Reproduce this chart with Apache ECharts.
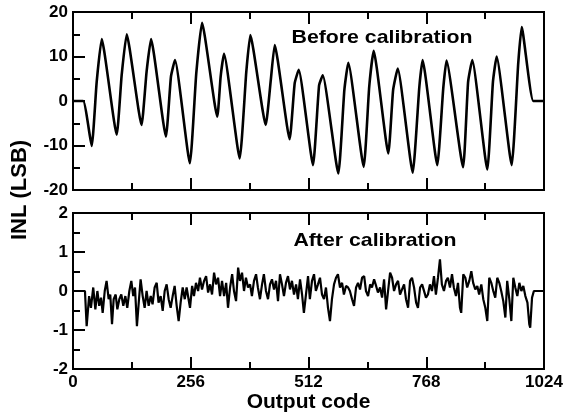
<!DOCTYPE html>
<html>
<head>
<meta charset="utf-8">
<script src="https://cdn.jsdelivr.net/npm/echarts@6/dist/echarts.min.js"></script>
<style>html,body{margin:0;padding:0;background:#fff}#c{width:575px;height:416px}</style>
</head>
<body>
<div id="c"></div>
<script>
// Top panel: INL before calibration (codes, LSB)
const topCodes = [0,22,40.6,51.5,62.4,95,105.8,116.7,149,160,169.6,202,213,221.7,254,268,280.5,313.7,321,328.3,362.4,376.8,385.5,419,430,438.5,471,482,490.7,521.8,535,543,576.8,590,598.5,632,644,653.7,685.5,696,706,738.5,753,760,792,805,812,848,859,868,900.7,913,921,953.7,968,975.5,1000.7,1024];
const topINL = [0,0,-10.1,4.3,13.9,-7.6,5.8,15,-5.4,6.6,13.9,-8,5.5,9.2,-14,6.2,17.6,-3.5,5.5,10.6,-12.9,6.6,14.8,-5.4,4.7,12.6,-8.6,4,7,-14.4,3.5,5.8,-16.3,2.5,8.6,-14.8,3.2,11.3,-11.8,2.5,7.3,-16.1,3.2,9.2,-14.4,2.9,9.1,-14.9,4.3,9.2,-15.4,4.3,10,-14.4,8.5,16.6,0,0];

// Bottom panel: INL after calibration (codes, LSB)
const botCodes = [0,26,29.7,35,39,44,48.6,53,57,61,64.5,69,73,77.5,81,84.8,88.4,92.8,96.4,100.7,105,109.4,113.8,118,122.5,126.8,131,134.8,139,143.5,147,151.5,155.8,160,164.5,169,173,177.5,182,186,190.6,195,199.3,203.6,208,212.3,216.7,221,225.4,229.7,234,238.5,243,247,
254.4,259,263,267.4,272,276,280.5,285,289.4,293.7,298,302.3,306.7,311,315.4,319.7,324,328.5,333,337,341.5,346,350,354.5,359,363,367.5,371.8,376,380.5,385,389,393.5,398,402,406.5,411,415,419.6,424,428.3,432.6,437,441.4,445.7,450,454.4,458.7,463,467.4,471.8,476,480.5,485,489,493.6,498,502,
511,515,519.6,524,528,532.6,537,541.4,545.7,550,554.4,558.7,563,567.5,571.8,576,580.5,585,589,593.6,598,602,606.7,611,615.4,619.7,624,628.5,633,637,641.5,646,650,654.6,659,663,667.6,672,676.3,680.7,685,689.4,693.7,698,702.4,706.7,711,715.4,719.8,724,728.5,732.8,737,741.5,746,750,754.6,759,
767.4,771.7,776,780.4,784.8,789,793.5,797.8,802,806.5,811,815,819.6,824,828,832.6,837,841.3,844,848.5,853,857,861.6,866,870,874.6,879,883,887.7,892,896.4,900.7,905,909.4,913.7,918,922.4,926.8,931,935.5,940,944,948.6,953,957.3,961.6,966,970.4,974.8,979,983.5,988,992,994,998,1002,1024];
const botINL = [0,0,-0.9,-0.13,-0.43,0.09,-0.47,0,-0.38,-0.17,-0.56,0,0.26,-0.21,-0.09,-0.85,-0.21,-0.09,-0.47,-0.21,-0.09,-0.38,-0.13,-0.43,0,0.26,-0.13,0.09,-0.9,-0.21,0.3,-0.13,-0.43,0,-0.38,-0.13,-0.34,0.09,0.21,-0.3,-0.13,-0.51,0,0.17,-0.21,-0.43,-0.13,0.13,-0.38,-0.77,-0.3,0.09,-0.21,0.09,
-0.43,0.13,-0.13,0.21,0,0.34,0.04,0.26,0.38,-0.04,0.17,-0.09,0.47,0.17,0.34,-0.13,0.26,-0.13,0.21,-0.43,0.09,0.43,0,-0.26,0.6,0.26,0.47,0,0.34,0.09,0.17,-0.13,0.26,0.43,0.09,-0.21,0.17,0.43,0,-0.21,0.17,0.3,0.04,0.26,-0.26,0.43,0.17,-0.13,0.21,0.38,0.04,0.26,-0.09,0.17,-0.21,0.3,-0.09,-0.56,
0.38,-0.21,0.26,0.43,0,0.17,0.34,-0.09,-0.21,0.09,-0.43,-0.77,-0.21,0.17,0.34,0.43,0.09,0.21,-0.09,0.13,0.09,0,-0.21,-0.38,0.09,0.21,0.04,0.34,0.38,0,-0.13,0.17,0.09,0.3,0.13,-0.04,0.09,-0.17,0.3,-0.47,0,0.47,0.34,0,0.17,0.26,-0.09,0.04,0.17,-0.21,-0.43,0.26,0.34,0.09,-0.3,-0.43,0.09,0.17,
-0.17,-0.09,0.17,0,0.38,-0.09,0.34,0.81,0.17,0,0.26,0.34,0.09,0.43,0.09,-0.13,0.21,-0.43,-0.56,0.43,0.34,0.09,0.26,0.51,0.21,0.04,0.13,-0.09,0.17,-0.21,-0.43,-0.77,0.34,0.21,0,-0.17,0.34,0.21,0,-0.26,-0.68,0.26,-0.21,-0.77,0.34,0.09,-0.13,0.21,0,0.13,-0.13,-0.3,-0.85,-0.94,-0.17,0,0];

const xTickStep = 256;
const topRange = [-20, 20, 10];
const botRange = [-2, 2, 1];

const pair = (xs, ys) => xs.map((x, i) => [x, ys[i]]);
const FONT = '"Liberation Sans", Arial, Helvetica, sans-serif';

function xAx(grid, pos, labels, extra) {
  return Object.assign({
    type: 'value', gridIndex: grid, position: pos, min: 0, max: 1024, interval: xTickStep,
    axisLine: { show: true, onZero: false, lineStyle: { color: '#000', width: 2 } },
    axisTick: { show: true, inside: true, length: 12, lineStyle: { color: '#000', width: 2 } },
    minorTick: { show: true, splitNumber: 2, length: 7, lineStyle: { color: '#000', width: 2 } },
    splitLine: { show: false },
    axisLabel: { show: labels, color: '#000', fontFamily: FONT, fontWeight: 'bold', fontSize: 17, margin: 5,
      formatter: v => String(v) }
  }, extra || {});
}
function yAx(grid, r) {
  return {
    type: 'value', gridIndex: grid, min: r[0], max: r[1], interval: r[2],
    axisLine: { show: true, onZero: false, lineStyle: { color: '#000', width: 2 } },
    axisTick: { show: true, inside: true, length: 12, lineStyle: { color: '#000', width: 2 } },
    minorTick: { show: true, splitNumber: 2, length: 7, lineStyle: { color: '#000', width: 2 } },
    splitLine: { show: false },
    axisLabel: { color: '#000', fontFamily: FONT, fontWeight: 'bold', fontSize: 17, margin: 5,
      formatter: v => String(v) }
  };
}

const chart = echarts.init(document.getElementById('c'), null, { renderer: 'canvas' });
chart.setOption({
  backgroundColor: '#fff',
  animation: false,
  grid: [
    { left: 73, top: 12, width: 471, height: 178, show: true, borderColor: '#000', borderWidth: 2 },
    { left: 73, top: 213, width: 471, height: 156, show: true, borderColor: '#000', borderWidth: 2 }
  ],
  xAxis: [
    xAx(0, 'bottom', false),
    xAx(0, 'top', false),
    xAx(1, 'bottom', true, { name: 'Output code', nameLocation: 'middle', nameGap: 22,
      nameTextStyle: { color: '#000', fontFamily: FONT, fontWeight: 'bold', fontSize: 21 } }),
    xAx(1, 'top', false)
  ],
  yAxis: [ yAx(0, topRange), yAx(1, botRange) ],
  graphic: [
    { type: 'text', x: 20, y: 190, rotation: Math.PI / 2, style: { text: 'INL (LSB)', fill: '#000',
      font: 'bold 22px ' + FONT, textAlign: 'center', textVerticalAlign: 'middle' } },
    { type: 'text', x: 382, y: 38, scaleX: 1.12, style: { text: 'Before calibration', fill: '#000',
      font: 'bold 19px ' + FONT, textAlign: 'center', textVerticalAlign: 'middle' } },
    { type: 'text', x: 375, y: 241, scaleX: 1.12, style: { text: 'After calibration', fill: '#000',
      font: 'bold 19px ' + FONT, textAlign: 'center', textVerticalAlign: 'middle' } }
  ],
  series: [
    { type: 'line', xAxisIndex: 0, yAxisIndex: 0, data: pair(topCodes, topINL), showSymbol: false, smooth: 0.15,
      lineStyle: { color: '#000', width: 2.6 } },
    { type: 'line', xAxisIndex: 2, yAxisIndex: 1, data: pair(botCodes, botINL), showSymbol: false, smooth: false,
      lineStyle: { color: '#000', width: 2.2 } }
  ]
});
</script>
</body>
</html>
